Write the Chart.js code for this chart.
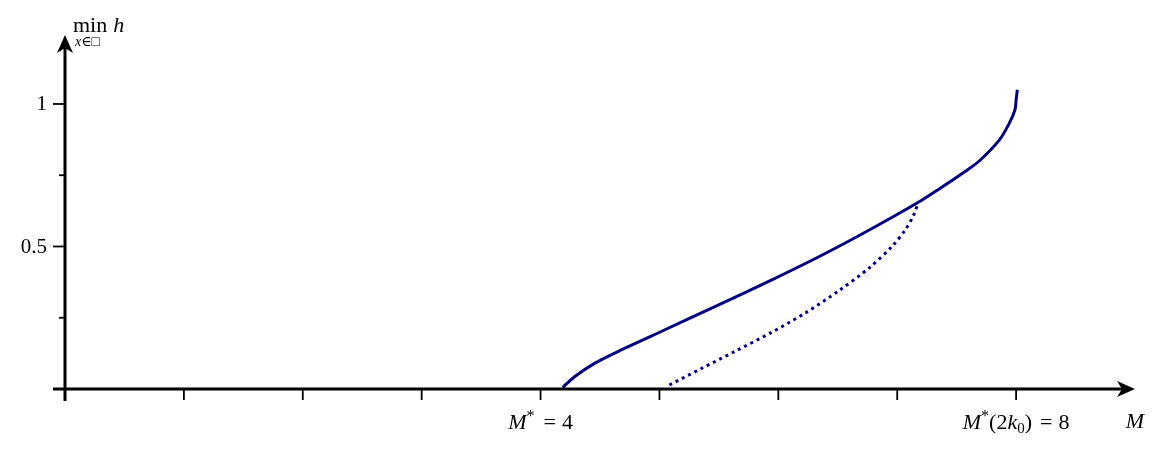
<!DOCTYPE html>
<html>
<head>
<meta charset="utf-8">
<script src="https://cdn.jsdelivr.net/npm/chart.js@4"></script>
<style>
  html, body { margin: 0; padding: 0; background: #fff; }
  #wrap { width: 1164px; height: 452px; position: relative; }
</style>
</head>
<body>
<div id="wrap"><canvas id="minChart" width="1164" height="452"></canvas></div>
<script>
// courbe pleine : min h en fonction de M
const solidM = [4.187, 4.286, 4.454, 4.678, 5.042, 5.462, 5.95, 6.345, 6.765, 7.185, 7.353, 7.577, 7.69, 7.86, 7.94, 7.99, 8.0, 8.01];
const solidH = [0.006, 0.043, 0.090, 0.137, 0.207, 0.288, 0.384, 0.465, 0.558, 0.657, 0.702, 0.765, 0.800, 0.874, 0.930, 0.979, 1.014, 1.05];

// courbe pointillée
const dottedM = [5.084, 5.35, 5.63, 5.94, 6.22, 6.51, 6.765, 6.96, 7.07, 7.14, 7.178];
const dottedH = [0.014, 0.071, 0.131, 0.198, 0.265, 0.345, 0.425, 0.502, 0.560, 0.612, 0.657];

// graduations
const xTicks = [0, 1, 2, 3, 4, 5, 6, 7, 8];
const yTicks = [0, 0.25, 0.5, 0.75, 1];
const yMajor = [0, 0.5, 1];
const yTickLabels = { 0.5: "0.5", 1: "1" };

const FONT = "'Liberation Serif', 'DejaVu Serif', serif";
const navy = "#000080";

function pts(xs, ys) {
  return xs.map((x, i) => ({ x: x, y: ys[i] }));
}

// dessine un texte composé (italique, indices, exposants, espaces)
function drawRich(ctx, parts, x, y, align) {
  let w = 0;
  parts.forEach(p => {
    if (p.gap) { p.w = p.gap; w += p.w; return; }
    ctx.font = (p.it ? "italic " : "") + p.size + "px " + FONT;
    p.w = ctx.measureText(p.t).width;
    w += p.w;
  });
  let cx = align === "center" ? x - w / 2 : (align === "right" ? x - w : x);
  parts.forEach(p => {
    if (!p.gap) {
      ctx.font = (p.it ? "italic " : "") + p.size + "px " + FONT;
      ctx.textAlign = "left";
      ctx.textBaseline = "alphabetic";
      ctx.fillText(p.t, cx, y + (p.dy || 0));
    }
    cx += p.w;
  });
}

function arrowHead(ctx, tx, ty, dir) {
  // pointe style "stealth"
  ctx.save();
  ctx.translate(tx, ty);
  ctx.rotate(dir);
  ctx.beginPath();
  ctx.moveTo(0, 0);
  ctx.lineTo(-18, -8);
  ctx.lineTo(-13, 0);
  ctx.lineTo(-18, 8);
  ctx.closePath();
  ctx.fillStyle = "#000";
  ctx.fill();
  ctx.restore();
}

const axesPlugin = {
  id: "axesPlugin",
  afterDraw(chart) {
    const ctx = chart.ctx;
    const xs = chart.scales.x, ys = chart.scales.y;
    const x0 = xs.getPixelForValue(0), y0 = ys.getPixelForValue(0);
    const xEnd = xs.right, yTop = ys.top;
    ctx.save();
    ctx.strokeStyle = "#000";
    ctx.lineWidth = 3;
    ctx.lineCap = "butt";

    // axe des x
    ctx.beginPath();
    ctx.moveTo(x0 - 12, y0);
    ctx.lineTo(xEnd - 10, y0);
    ctx.stroke();
    // axe des y
    ctx.beginPath();
    ctx.moveTo(x0, y0 + 12);
    ctx.lineTo(x0, yTop + 10);
    ctx.stroke();
    arrowHead(ctx, xEnd, y0, 0);
    arrowHead(ctx, x0, yTop, -Math.PI / 2);

    // graduations x
    ctx.lineWidth = 1.8;
    xTicks.forEach(v => {
      if (v === 0) return;
      const px = xs.getPixelForValue(v);
      ctx.beginPath();
      ctx.moveTo(px, y0);
      ctx.lineTo(px, y0 + 11);
      ctx.stroke();
    });
    // graduations y
    yTicks.forEach(v => {
      if (v === 0) return;
      const py = ys.getPixelForValue(v);
      const len = yMajor.includes(v) ? 12 : 6;
      ctx.beginPath();
      ctx.moveTo(x0 - len, py);
      ctx.lineTo(x0, py);
      ctx.stroke();
    });

    ctx.fillStyle = "#000";
    // étiquettes y
    Object.keys(yTickLabels).forEach(k => {
      const py = ys.getPixelForValue(parseFloat(k));
      ctx.font = "21px " + FONT;
      ctx.textAlign = "right";
      ctx.textBaseline = "middle";
      ctx.fillText(yTickLabels[k], x0 - 18, py + 1);
    });

    // étiquettes x
    const ly = y0 + 40;
    drawRich(ctx, [
      { t: "M", it: true, size: 22 },
      { t: "*", size: 16, dy: -8 },
      { gap: 9 },
      { t: "=", size: 22 },
      { gap: 6 },
      { t: "4", size: 22 }
    ], xs.getPixelForValue(4), ly, "center");
    drawRich(ctx, [
      { t: "M", it: true, size: 22 },
      { t: "*", size: 16, dy: -8 },
      { t: "(2", size: 22 },
      { t: "k", it: true, size: 22 },
      { t: "0", size: 15, dy: 4 },
      { t: ")", size: 22 },
      { gap: 8 },
      { t: "=", size: 22 },
      { gap: 6 },
      { t: "8", size: 22 }
    ], xs.getPixelForValue(8), ly, "center");
    drawRich(ctx, [{ t: "M", it: true, size: 22 }], xEnd, ly - 1, "center");

    // titre de l'axe y
    drawRich(ctx, [
      { t: "min", size: 22 },
      { gap: 6 },
      { t: "h", it: true, size: 22 }
    ], x0 + 8, 32, "left");
    drawRich(ctx, [
      { t: "x", it: true, size: 14 },
      { t: "∈□", size: 14 }
    ], x0 + 10, 46, "left");

    ctx.restore();
  }
};

const ctx = document.getElementById("minChart");
new Chart(ctx, {
  type: "scatter",
  data: {
    datasets: [
      {
        label: "solide",
        data: pts(solidM, solidH),
        showLine: true,
        borderColor: navy,
        borderWidth: 3,
        pointRadius: 0,
        tension: 0.3,
        fill: false
      },
      {
        label: "pointillé",
        data: pts(dottedM, dottedH),
        showLine: true,
        borderColor: navy,
        borderWidth: 3,
        borderDash: [3, 4],
        pointRadius: 0,
        tension: 0.3,
        fill: false
      }
    ]
  },
  options: {
    responsive: false,
    animation: false,
    layout: { padding: { left: 65, right: 29, top: 35, bottom: 63 } },
    plugins: { legend: { display: false }, tooltip: { enabled: false } },
    scales: {
      x: { type: "linear", min: 0, max: 9, display: false },
      y: { type: "linear", min: 0, max: 1.242, display: false }
    }
  },
  plugins: [axesPlugin]
});
</script>
</body>
</html>
